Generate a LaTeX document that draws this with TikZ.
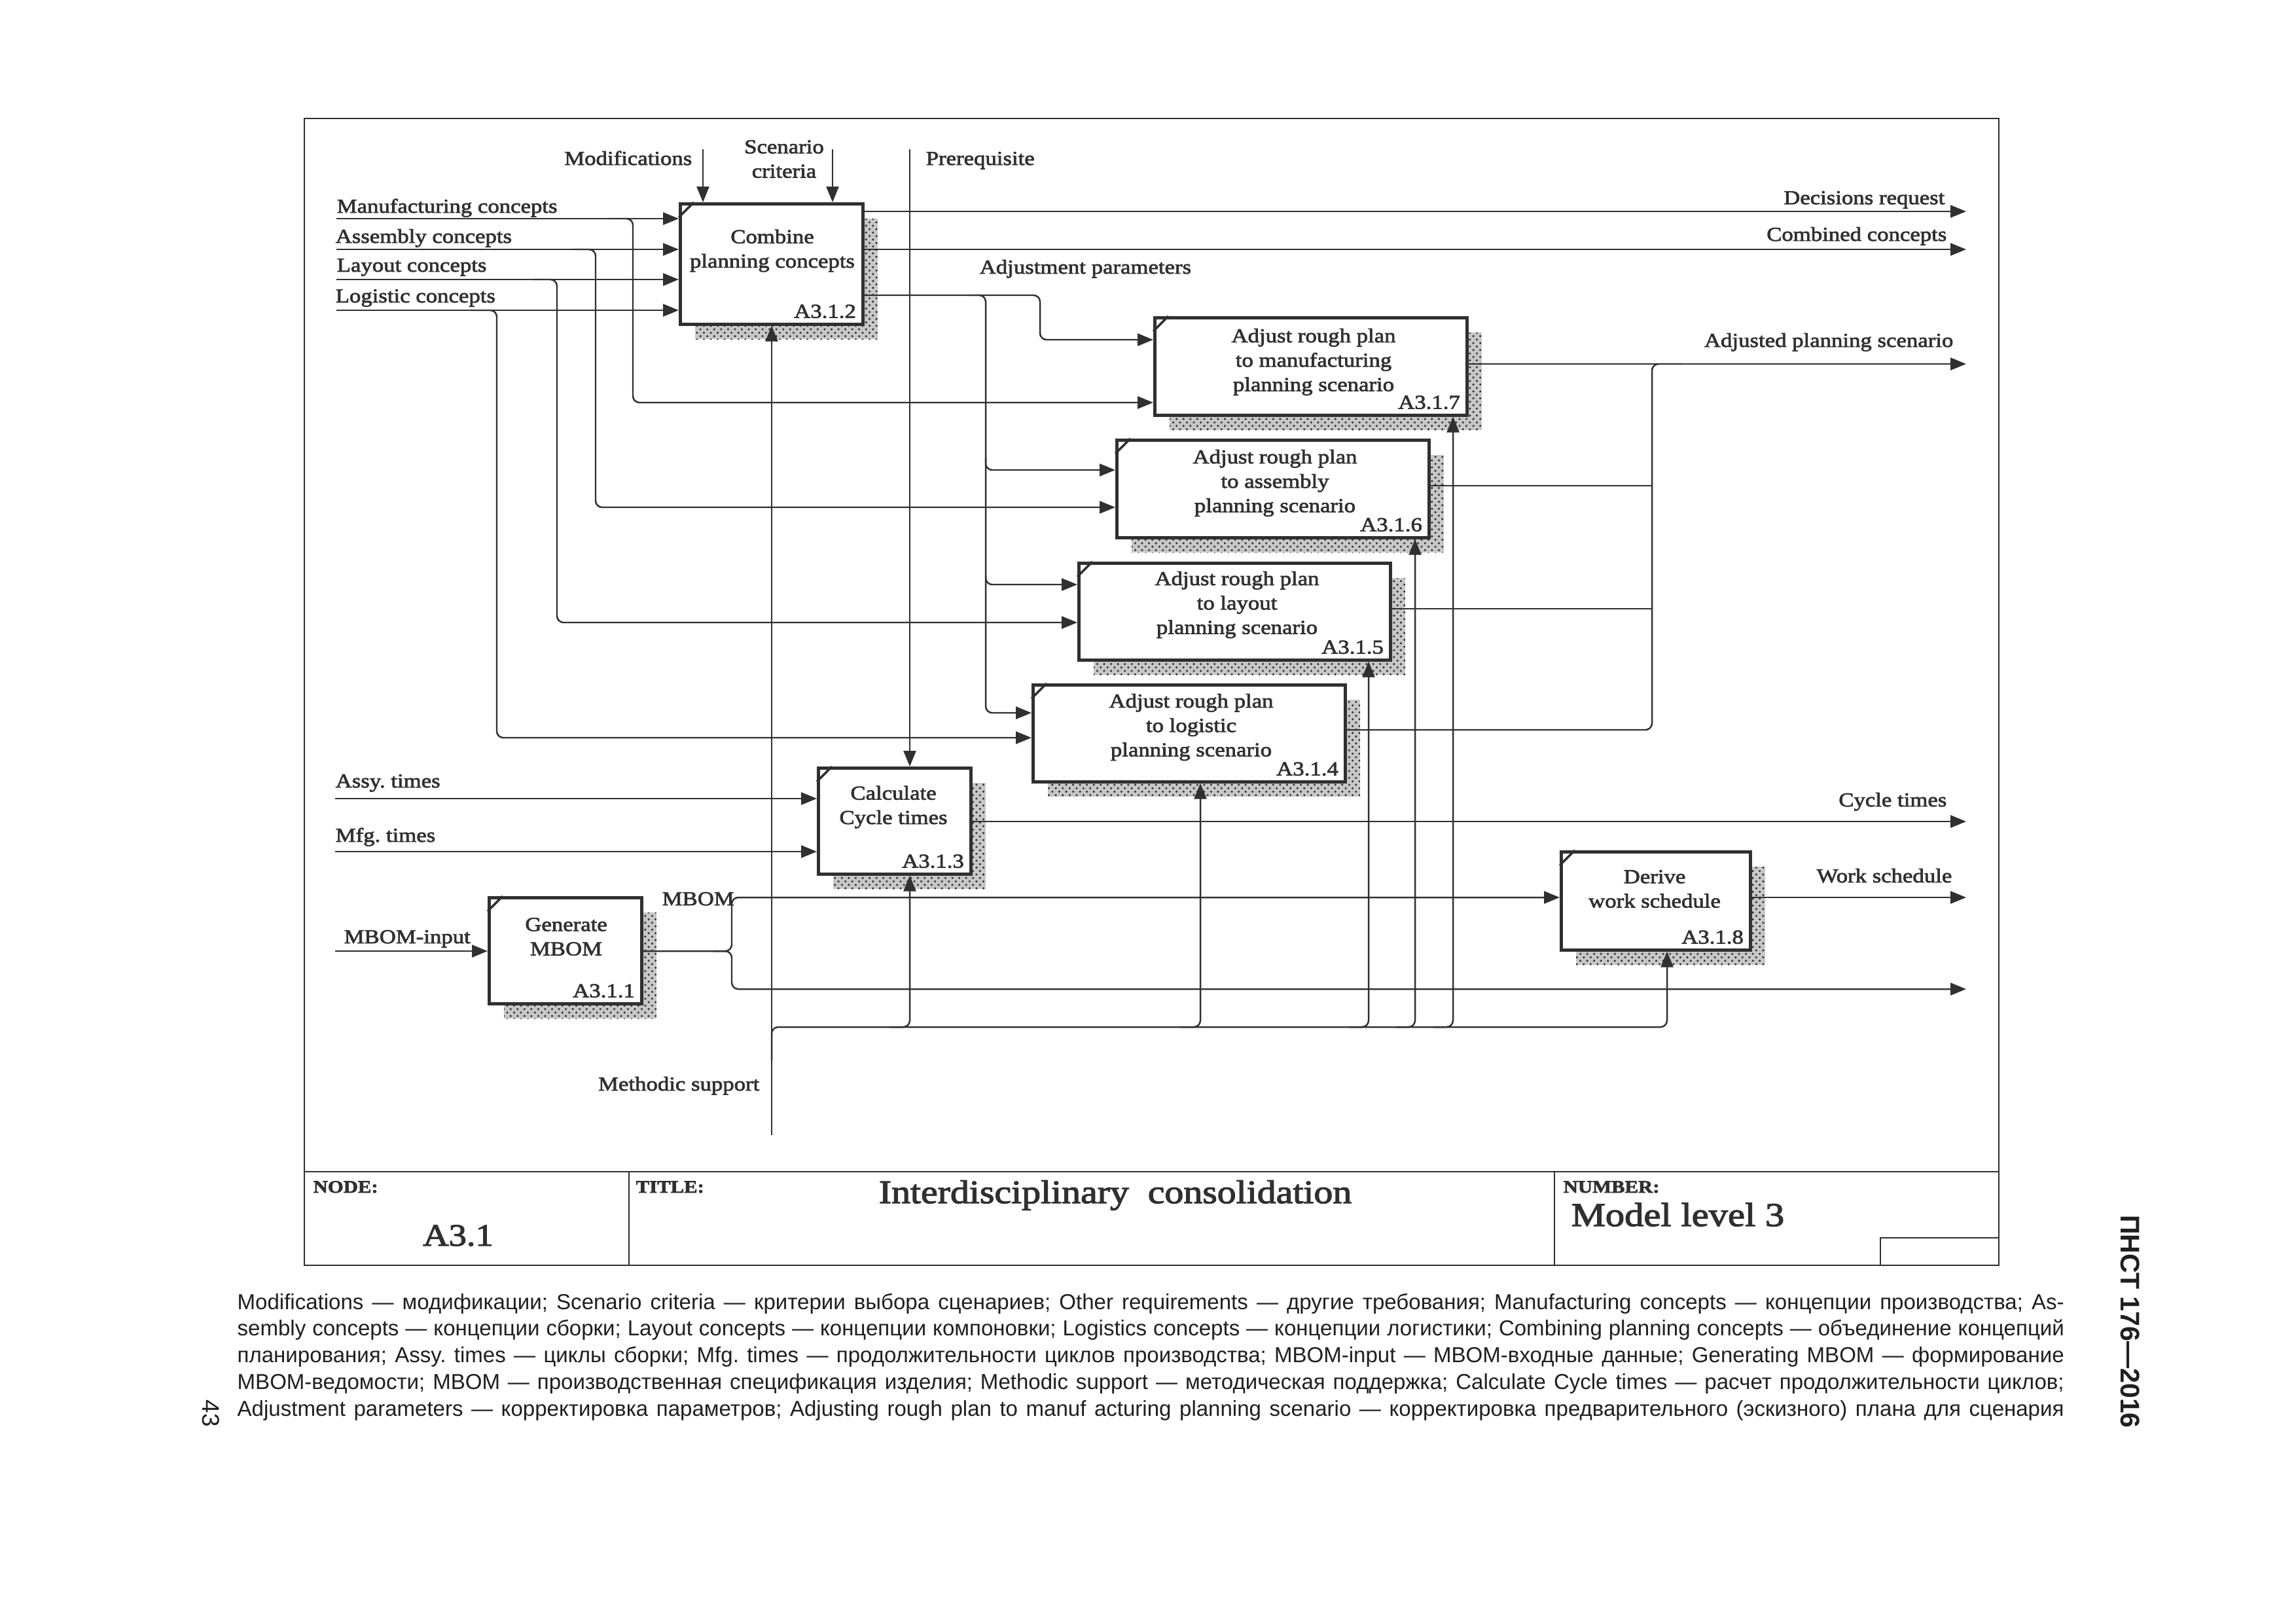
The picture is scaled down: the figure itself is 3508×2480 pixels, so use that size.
\documentclass[tikz,border=0pt]{standalone}
\usepackage{fontspec}
\setmainfont{Liberation Serif}[FakeStretch=1.15, FakeBold=2.5]
\newfontfamily\capfont{Liberation Sans}
\usetikzlibrary{arrows.meta,patterns}
\definecolor{ink}{HTML}{303030}
\frenchspacing
\newcommand\lblf{\fontsize{8.6}{10.6}\selectfont}
\newcommand\hdrf{\bfseries\fontsize{7.6}{9}\selectfont}
\tikzset{
 ln/.style={draw=ink, line width=0.7pt},
 arr/.style={ln, -{Triangle[length=2.4mm,width=1.9mm]}},
 rc/.style={rounded corners=1mm},
 fnbox/.style={draw=ink, fill=white, line width=1.3pt, inner sep=0pt, rectangle},
 cornerline/.style={draw=ink, line width=1pt},
 shadowbase/.style={fill=black!22},
 shadowfill/.style={pattern=crosshatch dots, pattern color=ink},
 lbl/.style={font=\lblf, text=ink, inner sep=0pt},
 boxtxt/.style={lbl, align=center},
 numtxt/.style={lbl, anchor=base east, xshift=-1.2mm, yshift=1.2mm},
 frameline/.style={draw=ink, line width=0.8pt},
 hdr/.style={font=\hdrf, text=ink, inner sep=0pt, anchor=base west},
}
\newcommand\idefbox[5]{%
  \fill[shadowbase] (#2+25,#3+25) rectangle (#4+25,#5+25);
  \fill[shadowfill] (#2+25,#3+25) rectangle (#4+25,#5+25);
  \node[fnbox, anchor=north west, minimum width={(#4-#2)*0.1mm}, minimum height={(#5-#3)*0.1mm}] (#1) at (#2,#3) {};
  \draw[cornerline] ([yshift=-2.3mm]#1.north west) -- ([xshift=2.3mm]#1.north west);
}
\begin{document}
\begin{tikzpicture}[x=0.1mm, y=-0.1mm]
\fill[white] (0,0) rectangle (3508,2480);
\useasboundingbox (0,0) rectangle (3508,2480);

% frame and title block
\draw[frameline] (465,181) rectangle (3054,1933);
\draw[frameline] (465,1790) -- (3054,1790);
\draw[frameline] (961,1790) -- (961,1933);
\draw[frameline] (2375,1790) -- (2375,1933);
\draw[frameline] (2873,1933) |- (3054,1891);
\node[hdr] (tnode) at (478,1822) {NODE:};
\node[hdr] (ttitle) at (971,1822) {TITLE:};
\node[hdr] (tnum) at (2388,1822) {NUMBER:};
\node[text=ink, inner sep=0pt, anchor=base, font=\fontsize{13.5}{16}\selectfont] (tA) at (700,1903) {A3.1};
\node[text=ink, inner sep=0pt, anchor=base, font=\fontsize{14.3}{17}\selectfont] (tT) at (1704,1838) {Interdisciplinary\ \ consolidation};
\node[text=ink, inner sep=0pt, anchor=base west, font=\fontsize{14.5}{17}\selectfont] (tM) at (2400,1873) {Model level 3};

% boxes
\idefbox{b2}{1037}{309}{1316}{493}
\idefbox{b7}{1762}{483}{2239}{632}
\idefbox{b6}{1704}{670}{2181}{819}
\idefbox{b5}{1646}{858}{2122}{1006}
\idefbox{b4}{1576}{1044}{2053}{1192}
\idefbox{b3}{1248}{1171}{1481}{1333}
\idefbox{b1}{745}{1369}{978}{1531}
\idefbox{b8}{2383}{1299}{2672}{1449}

\node[boxtxt] (t2) at (1180,383) {Combine\\planning concepts};
\node[boxtxt] (t7) at (2007,553) {Adjust rough plan\\to manufacturing\\planning scenario};
\node[boxtxt] (t6) at (1948,738) {Adjust rough plan\\to assembly\\planning scenario};
\node[boxtxt] (t5) at (1890,924) {Adjust rough plan\\to layout\\planning scenario};
\node[boxtxt] (t4) at (1820,1111) {Adjust rough plan\\to logistic\\planning scenario};
\node[boxtxt] (t3) at (1365,1233) {Calculate\\Cycle times};
\node[boxtxt] (t1) at (865,1431) {Generate\\MBOM};
\node[boxtxt] (t8) at (2528,1358) {Derive\\work schedule};

\node[numtxt] (n2) at (b2.south east) {A3.1.2};
\node[numtxt] (n7) at (b7.south east) {A3.1.7};
\node[numtxt] (n6) at (b6.south east) {A3.1.6};
\node[numtxt] (n5) at (b5.south east) {A3.1.5};
\node[numtxt] (n4) at (b4.south east) {A3.1.4};
\node[numtxt] (n3) at (b3.south east) {A3.1.3};
\node[numtxt] (n1) at (b1.south east) {A3.1.1};
\node[numtxt] (n8) at (b8.south east) {A3.1.8};

% left inputs to A3.1.2 and their branches
\coordinate (iMan) at (514,334);
\coordinate (iAsm) at (514,381);
\coordinate (iLay) at (514,427);
\coordinate (iLog) at (514,474);
\draw[arr] (iMan) -- (b2.west |- iMan);
\draw[arr] (iAsm) -- (b2.west |- iAsm);
\draw[arr] (iLay) -- (b2.west |- iLay);
\draw[arr] (iLog) -- (b2.west |- iLog);
\draw[arr, rc] (930,334) -| (967,615) -- (b7.west |- 0,615);
\draw[arr, rc] (875,381) -| (910,775) -- (b6.west |- 0,775);
\draw[arr, rc] (815,427) -| (851,951) -- (b5.west |- 0,951);
\draw[arr, rc] (720,474) -| (759,1127) -- (b4.west |- 0,1127);
\node[lbl, anchor=base west] (lMan) at (514,325) {Manufacturing concepts};
\node[lbl, anchor=base west] (lAsm) at (512,371) {Assembly concepts};
\node[lbl, anchor=base west] (lLay) at (514,415) {Layout concepts};
\node[lbl, anchor=base west] (lLog) at (512,462) {Logistic concepts};

% top controls
\coordinate (cMod) at (1074,228);
\coordinate (cScn) at (1272,228);
\coordinate (cPre) at (1390,228);
\draw[arr] (cMod) -- (cMod |- b2.north);
\draw[arr] (cScn) -- (cScn |- b2.north);
\draw[arr] (cPre) -- (cPre |- b3.north);
\node[lbl, anchor=base east] (lMod) at (1058,252) {Modifications};
\node[lbl, align=center] (lScn) at (1198,243) {Scenario\\criteria};
\node[lbl, anchor=base west] (lPre) at (1414,252) {Prerequisite};

% outputs of A3.1.2
\coordinate (oDec) at (3004,323);
\coordinate (oCom) at (3004,381);
\draw[arr] (b2.east |- oDec) -- (oDec);
\draw[arr] (b2.east |- oCom) -- (oCom);
\node[lbl, anchor=base east] (lDec) at (2972,312) {Decisions request};
\node[lbl, anchor=base east] (lCom) at (2975,368) {Combined concepts};
\draw[arr, rc] (b2.east |- 0,451) -| (1589,519) -- (b7.west |- 0,519);
\draw[arr, rc] (1480,451) -| (1506,718) -- (b6.west |- 0,718);
\draw[arr, rc] (1506,700) |- (b5.west |- 0,893);
\draw[arr, rc] (1506,880) |- (b4.west |- 0,1089);
\node[lbl, anchor=base west] (lAdj) at (1496,418) {Adjustment parameters};

% adjusted planning scenario
\coordinate (oAdj) at (3004,556);
\draw[arr] (b7.east |- oAdj) -- (oAdj);
\draw[ln] (b6.east |- 0,742) -- (2524,742);
\draw[ln] (b5.east |- 0,930) -- (2524,930);
\draw[ln, rc] (b4.east |- 0,1115) -| (2524,556) -- (2570,556);
\node[lbl, anchor=base east] (lAdjS) at (2985,530) {Adjusted planning scenario};

% cycle times
\coordinate (iAssy) at (512,1220);
\coordinate (iMfg) at (512,1301);
\coordinate (oCyc) at (3004,1255);
\draw[arr] (iAssy) -- (b3.west |- iAssy);
\draw[arr] (iMfg) -- (b3.west |- iMfg);
\draw[arr] (b3.east |- oCyc) -- (oCyc);
\node[lbl, anchor=base west] (lAssy) at (512,1203) {Assy. times};
\node[lbl, anchor=base west] (lMfg) at (512,1286) {Mfg. times};
\node[lbl, anchor=base east] (lCyc) at (2975,1232) {Cycle times};

% MBOM
\coordinate (iMB) at (512,1453);
\coordinate (oMB) at (3004,1511);
\coordinate (oWS) at (3004,1371);
\draw[arr] (iMB) -- (b1.west |- iMB);
\draw[arr, rc] (b1.east |- 0,1453) -| (1118,1371) -- (b8.west |- 0,1371);
\draw[arr, rc] (1090,1453) -| (1118,1511) -- (oMB);
\draw[arr] (b8.east |- oWS) -- (oWS);
\node[lbl, anchor=base west] (lMBi) at (525,1441) {MBOM-input};
\node[lbl, anchor=base west] (lMB) at (1011,1383) {MBOM};
\node[lbl, anchor=base east] (lWS) at (2983,1348) {Work schedule};

% methodic support
\coordinate (cMeth) at (1179,1734);
\draw[arr] (cMeth) -- (cMeth |- b2.south);
\coordinate (m8) at (2547,1569);
\draw[arr, rc] (1179,1620) |- (m8) -- (m8 |- b8.south);
\coordinate (m3) at (1390,1569);
\coordinate (m4) at (1834,1569);
\coordinate (m5) at (2091,1569);
\coordinate (m6) at (2162,1569);
\coordinate (m7) at (2220,1569);
\draw[arr, rc] ([xshift=-3mm]m3) -| (m3 |- b3.south);
\draw[arr, rc] ([xshift=-3mm]m4) -| (m4 |- b4.south);
\draw[arr, rc] ([xshift=-3mm]m5) -| (m5 |- b5.south);
\draw[arr, rc] ([xshift=-3mm]m6) -| (m6 |- b6.south);
\draw[arr, rc] ([xshift=-3mm]m7) -| (m7 |- b7.south);
\node[lbl, anchor=base east] (lMeth) at (1161,1666) {Methodic support};

% caption and page furniture
\node[anchor=base west, inner sep=0pt, text=black!88, font=\capfont\fontsize{9.4}{11.6}\selectfont] (cap) at (362,2000) {\parbox[t]{279.1mm}{\hbadness=10000\hfuzz=20pt\parfillskip=0pt
Modifications — модификации; Scenario criteria — критерии выбора сценариев; Other requirements — другие требования; Manufacturing concepts — концепции производства; As-\linebreak
sembly concepts — концепции сборки; Layout concepts — концепции компоновки; Logistics concepts — концепции логистики; Combining planning concepts — объединение концепций\linebreak
планирования; Assy. times — циклы сборки; Mfg. times — продолжительности циклов производства; MBOM-input — MBOM-входные данные; Generating MBOM — формирование\linebreak
MBOM-ведомости; MBOM — производственная спецификация изделия; Methodic support — методическая поддержка; Calculate Cycle times — расчет продолжительности циклов;\linebreak
Adjustment parameters — корректировка параметров; Adjusting rough plan to manuf acturing planning scenario — корректировка предварительного (эскизного) плана для сценария\par}};
\node[rotate=-90, inner sep=0pt, text=black!88, font=\capfont\bfseries\fontsize{11.7}{14}\selectfont] (std) at (3255,2019) {ПНСТ 176—2016};
\node[rotate=-90, inner sep=0pt, text=black!88, font=\capfont\fontsize{10.5}{12}\selectfont] (pg) at (322,2159) {43};
\end{tikzpicture}
\end{document}
